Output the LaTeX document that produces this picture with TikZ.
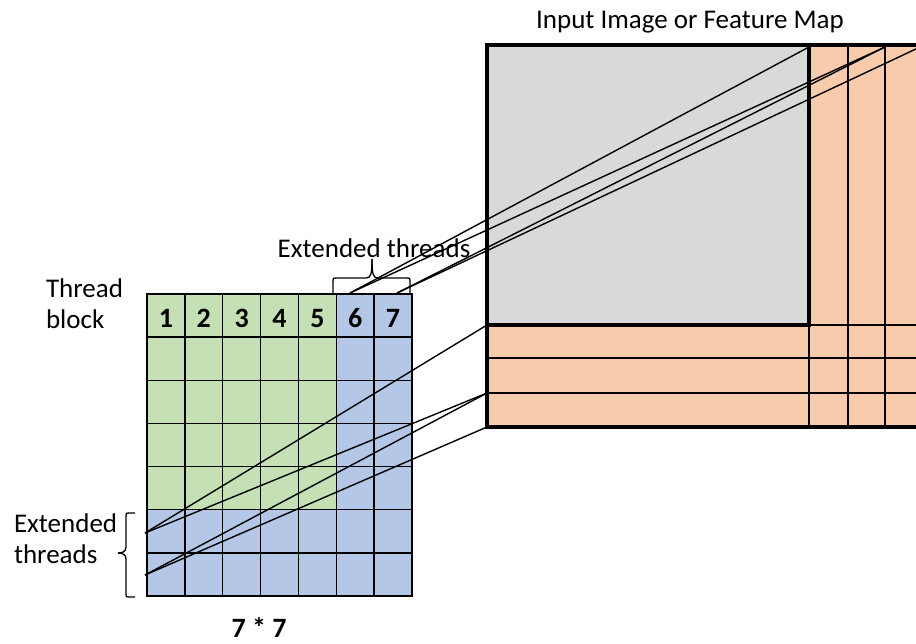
\documentclass[tikz,border=0pt]{standalone}
\usepackage{fontspec}
\setmainfont{Carlito}
\definecolor{tgreen}{HTML}{C5E0B4}
\definecolor{tblue}{HTML}{B4C7E7}
\definecolor{tgray}{HTML}{D9D9D9}
\definecolor{torange}{HTML}{F8CBAD}
\begin{document}
\begin{tikzpicture}[x=1pt,y=-1pt,
  every node/.style={inner sep=0pt, outer sep=0pt},
  lbl/.style={font=\fontsize{27}{32}\selectfont},
  num/.style={font=\fontsize{28}{32}\selectfont\bfseries},
  cell/.style={draw=black, line width=1.5pt, minimum width=37.86pt, minimum height=43.14pt},
  thinrule/.style={draw=black, line width=1.3pt},
  frame/.style={draw=black, line width=3.5pt},
  wire/.style={draw=black, line width=1.4pt},
  bracket/.style={draw=black, line width=1.3pt}]
\useasboundingbox (0,0) rectangle (916,643);

% thread block: 7 x 7 cells, 5 x 5 core in green, extension in blue
\foreach \c in {1,...,7}{
  \foreach \r in {1,...,7}{
    \ifnum\c<6 \ifnum\r<6 \def\cc{tgreen}\else\def\cc{tblue}\fi\else\def\cc{tblue}\fi
    \node[cell, fill=\cc] (c\c-\r) at ({147+(\c-0.5)*37.857},{294+(\r-0.5)*43.143}) {};
  }
}
\foreach \c in {1,...,7}
  \node[num, anchor=base] (n\c) at ({147+(\c-0.5)*37.857},327) {\c};

% input image / feature map with its padded border
\begin{scope}
  \clip (0,0) rectangle (916,643);
  \fill[torange] (487,45) rectangle (935,427);
  \fill[tgray] (487,45) rectangle (809,325);
  \draw[thinrule] (809,325) -- (809,427);
  \draw[thinrule] (848,45) -- (848,427);
  \draw[thinrule] (885,45) -- (885,427);
  \draw[thinrule] (809,325) -- (935,325);
  \draw[thinrule] (487,358) -- (935,358);
  \draw[thinrule] (487,393) -- (935,393);
  \draw[frame] (935,45) -- (487,45) -- (487,427) -- (935,427);
  \draw[frame] (809,45) -- (809,325) -- (487,325);
\end{scope}

% anchor points of the mapping lines
\coordinate (a6) at (350,293);
\coordinate (a7) at (397,293);
\coordinate (r6) at (145,533);
\coordinate (r7) at (145,575);
\coordinate (gtr) at (809,47);
\coordinate (p2) at (885,47);
\coordinate (p3) at (918,48);
\coordinate (gbl) at (487,325);
\coordinate (q2) at (487,393);
\coordinate (obl) at (487,427);

\begin{scope}
  \clip (0,0) rectangle (916,643);
  \draw[wire] (a6) -- (gtr);
  \draw[wire] (a6) -- (p2);
  \draw[wire] (a7) -- (p2);
  \draw[wire] (a7) -- (p3);
  \draw[wire] (r6) -- (gbl);
  \draw[wire] (r6) -- (q2);
  \draw[wire] (r7) -- (q2);
  \draw[wire] (r7) -- (obl);
\end{scope}

% braces
\draw[bracket] (333,293) -- (333,281) .. controls (333,278) .. (336,278) -- (366,278)
  .. controls (371,278) and (372,274) .. (372,259);
\draw[bracket] (410,293) -- (410,281) .. controls (410,278) .. (407,278) -- (378,278)
  .. controls (373,278) and (372,274) .. (372,259);
\draw[bracket] (135,513) -- (129,513) .. controls (126,513) .. (126,516) -- (126,547)
  .. controls (126,552) and (122,553) .. (118,553);
\draw[bracket] (135,597) -- (129,597) .. controls (126,597) .. (126,594) -- (126,559)
  .. controls (126,554) and (122,553) .. (118,553);

% labels
\node[lbl, anchor=base] (title) at (690,28) {Input Image or Feature Map};
\node[lbl, anchor=base] (ext1) at (374,257) {Extended threads};
\node[lbl, anchor=base west] (tb1) at (46,297) {Thread};
\node[lbl, anchor=base west] (tb2) at (46,328) {block};
\node[lbl, anchor=base west] (ext2a) at (14,532) {Extended};
\node[lbl, anchor=base west] (ext2b) at (14,563) {threads};
\node[num, anchor=base] (size) at (259,637) {7 * 7};
\end{tikzpicture}
\end{document}
